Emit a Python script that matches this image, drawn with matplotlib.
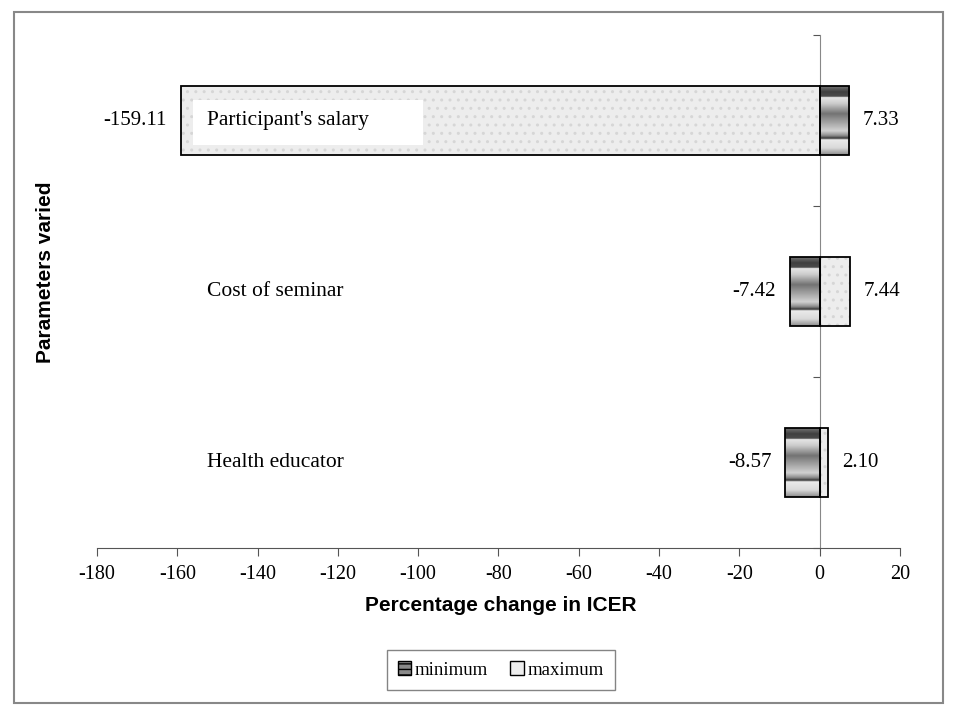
import matplotlib
matplotlib.use("Agg")
import matplotlib.pyplot as plt
import numpy as np
from matplotlib.patches import Patch, Rectangle

# Tornado chart: % change in ICER when each parameter is varied
params = ["Participant's salary", "Cost of seminar", "Health educator"]
minimum = [7.33, -7.42, -8.57]
maximum = [-159.11, 7.44, 2.10]
min_labels = ["7.33", "-7.42", "-8.57"]
max_labels = ["-159.11", "7.44", "2.10"]
xticks = list(range(-180, 21, 20))

serif = "Liberation Serif"
sans = "Liberation Sans"

fig = plt.figure(figsize=(9.61, 7.22), dpi=100)
ax = fig.add_axes([0.1009, 0.2410, 0.8356, 0.7105])

ypos = np.arange(len(params))
bar_h = 0.40

# maximum bars: light speckled look
ax.barh(ypos, maximum, height=bar_h, color="#ededed", edgecolor="#d6d6d6",
        hatch="..", linewidth=0, zorder=2)
ax.barh(ypos, maximum, height=bar_h, color="none", edgecolor="black",
        linewidth=1.3, zorder=4)

# minimum bars: grey banded gradient, clipped to the bar
min_bars = ax.barh(ypos, minimum, height=bar_h, color="none",
                   edgecolor="black", linewidth=1.3, zorder=4)
stops = [0.00, 0.08, 0.15, 0.16, 0.25, 0.40, 0.50, 0.65, 0.72, 0.76, 0.78, 0.90, 1.00]
greys = [0.45, 0.25, 0.30, 0.90, 0.80, 0.45, 0.60, 0.82, 0.55, 0.20, 0.92, 0.85, 0.55]
profile = np.interp(np.linspace(0, 1, 120), stops, greys).reshape(-1, 1)
for bar in min_bars:
    x0, y0 = bar.get_x(), bar.get_y()
    x1, y1 = x0 + bar.get_width(), y0 + bar.get_height()
    im = ax.imshow(profile, cmap="gray", vmin=0, vmax=1, aspect="auto",
                   extent=[min(x0, x1), max(x0, x1), y1, y0],
                   interpolation="bilinear", zorder=3)
    im.set_clip_path(bar)

# value labels at bar ends
for y, v, s in zip(ypos, minimum, min_labels):
    ax.annotate(s, (v, y), xytext=(10 if v > 0 else -10, 0),
                textcoords="offset points", va="center",
                ha="left" if v > 0 else "right", fontsize=15, family=serif)
for y, v, s in zip(ypos, maximum, max_labels):
    ax.annotate(s, (v, y), xytext=(10 if v > 0 else -10, 0),
                textcoords="offset points", va="center",
                ha="left" if v > 0 else "right", fontsize=15, family=serif)

# parameter names inside the plot, on a white label box
for y, name in zip(ypos, params):
    ax.add_patch(Rectangle((-156.2, y - 0.12), 57.3, 0.265, facecolor="white",
                           edgecolor="none", zorder=5))
    ax.text(-152.5, y, name, va="center", ha="left", fontsize=15.5,
            family=serif, zorder=6)

ax.set_xlim(-180, 20)
ax.set_ylim(2.5, -0.5)
ax.set_xticks(xticks)
ax.set_xticklabels([str(t) for t in xticks], fontsize=14.5, family=serif)
ax.set_yticks([-0.5, 0.5, 1.5, 2.5])
ax.set_yticklabels([])

ax.spines["top"].set_visible(False)
ax.spines["right"].set_visible(False)
ax.spines["left"].set_position(("data", 0))
ax.spines["left"].set_color("#888888")
ax.spines["bottom"].set_color("#555555")
ax.tick_params(axis="x", direction="out", length=6, color="#555555", pad=6)
ax.tick_params(axis="y", direction="out", length=5, color="#555555")

fig.text(0.521, 0.161, "Percentage change in ICER", ha="center", va="center",
         fontsize=15, fontweight="bold", family=sans)
fig.text(0.047, 0.623, "Parameters varied", ha="center", va="center",
         rotation=90, fontsize=15, fontweight="bold", family=sans)

handles = [Patch(facecolor="#8a8a8a", edgecolor="black", hatch="---"),
           Patch(facecolor="#eeeeee", edgecolor="black")]
leg = fig.legend(handles, ["minimum", "maximum"], loc="center",
                 bbox_to_anchor=(0.521, 0.072), ncol=2, frameon=True,
                 fancybox=False, edgecolor="#666666", prop={"family": serif, "size": 13.5},
                 handlelength=0.7, handleheight=0.7, handletextpad=0.2,
                 columnspacing=1.2, borderpad=0.6)
leg.get_frame().set_linewidth(1.0)

# outer chart frame
fig.patches.append(Rectangle((0.0146, 0.0263), 0.9667, 0.9571,
                             transform=fig.transFigure, fill=False,
                             edgecolor="#888888", linewidth=1.5))

fig.savefig("out.png", dpi=100)
